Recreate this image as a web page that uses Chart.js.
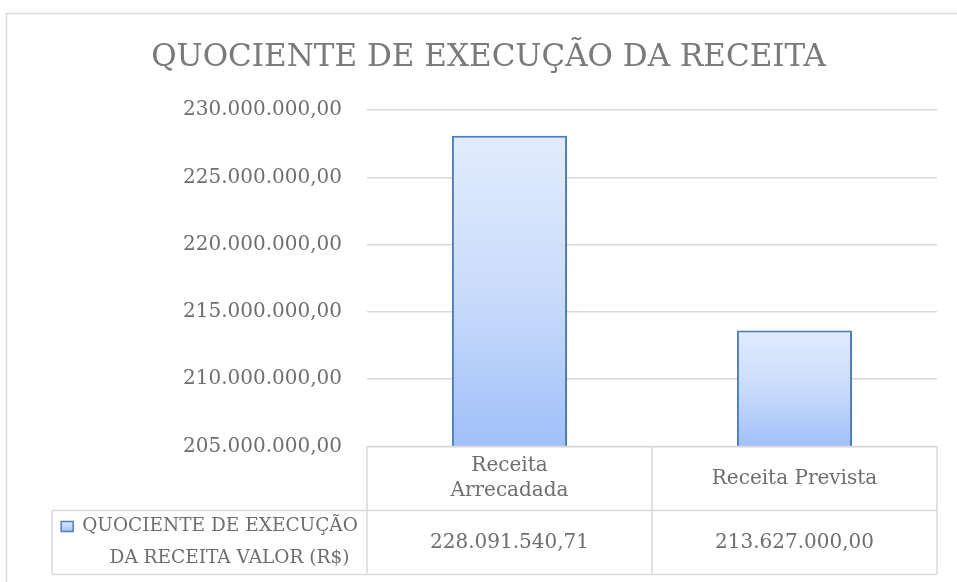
<!DOCTYPE html>
<html>
<head>
<meta charset="utf-8">
<script src="https://cdn.jsdelivr.net/npm/chart.js@4"></script>
<style>
  html, body { margin: 0; padding: 0; background: #ffffff; }
  #wrap { width: 957px; height: 582px; position: relative; }
</style>
</head>
<body>
<div id="wrap"><canvas id="c" width="957" height="582"></canvas></div>
<script>
// ---- data ----
const chartTitle = 'QUOCIENTE DE EXECUÇÃO DA RECEITA';
const categories = ['Receita Arrecadada', 'Receita Prevista'];
const categoryLines = [['Receita', 'Arrecadada'], ['Receita Prevista']];
const seriesName = 'QUOCIENTE DE EXECUÇÃO DA RECEITA VALOR (R$)';
const seriesNameLines = ['QUOCIENTE DE EXECUÇÃO', 'DA RECEITA VALOR (R$)'];
const values = [228091540.71, 213627000.00];
const yMin = 205000000;
const yMax = 230000000;
const yStep = 5000000;

// ---- helpers ----
function fmtBR(v) {
  const neg = v < 0;
  const fixed = Math.abs(v).toFixed(2);
  const [ip, dp] = fixed.split('.');
  const withDots = ip.replace(/\B(?=(\d{3})+(?!\d))/g, '.');
  return (neg ? '-' : '') + withDots + ',' + dp;
}

const FONT = "'DejaVu Serif', 'Liberation Serif', serif";
const TEXT = '#6e6e6e';
const LINE = '#d9d9d9';

function barGradient(ctx) {
  const chart = ctx.chart;
  const area = chart.chartArea;
  if (!area || ctx.type !== 'data') return '#c5d9fb';
  const y = chart.scales.y;
  const top = y.getPixelForValue(ctx.raw);
  const g = chart.ctx.createLinearGradient(0, top, 0, area.bottom);
  g.addColorStop(0, '#e1ebfd');
  g.addColorStop(0.5, '#cadcfb');
  g.addColorStop(1, '#a0c0f9');
  return g;
}

const frame = {
  id: 'frame',
  beforeDraw(chart) {
    const c = chart.ctx;
    c.save();
    c.fillStyle = '#ffffff';
    c.fillRect(0, 0, chart.width, chart.height);
    c.strokeStyle = LINE;
    c.lineWidth = 1.5;
    c.beginPath();
    c.moveTo(6.5, chart.height + 5);
    c.lineTo(6.5, 13.5);
    c.lineTo(chart.width + 5, 13.5);
    c.stroke();
    c.restore();
  }
};

const shadow = {
  id: 'barShadow',
  beforeDatasetsDraw(chart) {
    const c = chart.ctx;
    c.save();
    c.shadowColor = 'rgba(0,0,0,0.18)';
    c.shadowBlur = 5;
    c.shadowOffsetX = 1;
    c.shadowOffsetY = 1;
  },
  afterDatasetsDraw(chart) {
    chart.ctx.restore();
  }
};

const dataTable = {
  id: 'dataTable',
  afterDraw(chart, args, opts) {
    const c = chart.ctx;
    const area = chart.chartArea;
    const x = chart.scales.x;
    const n = categories.length;
    const colW = (area.right - area.left) / n;
    const top = area.bottom;
    const rowH = opts.rowHeight;
    const mid = top + rowH;
    const bottom = top + 2 * rowH;
    const legLeft = opts.legendLeft;

    c.save();
    c.strokeStyle = LINE;
    c.lineWidth = 1.5;
    c.beginPath();
    c.moveTo(area.left, top);
    c.lineTo(area.right, top);
    c.moveTo(legLeft, mid);
    c.lineTo(area.right, mid);
    c.moveTo(legLeft, bottom);
    c.lineTo(area.right, bottom);
    c.moveTo(legLeft, mid);
    c.lineTo(legLeft, bottom);
    for (let i = 0; i <= n; i++) {
      const xx = area.left + i * colW;
      c.moveTo(xx, top);
      c.lineTo(xx, bottom);
    }
    c.stroke();

    c.fillStyle = TEXT;
    c.font = '20px ' + FONT;
    c.textAlign = 'center';
    c.textBaseline = 'middle';
    const lh = 25;
    for (let i = 0; i < n; i++) {
      const cx = x.getPixelForValue(i);
      const lines = categoryLines[i];
      const y0 = top + rowH / 2 - (lines.length - 1) * lh / 2;
      lines.forEach((t, k) => c.fillText(t, cx, y0 + k * lh));
      c.fillText(fmtBR(values[i]), cx, mid + rowH / 2);
    }

    // legend key + series name
    c.font = '18.5px ' + FONT;
    const lh2 = 32;
    const ly0 = mid + rowH / 2 - lh2 / 2;
    c.textAlign = 'left';
    const t1 = seriesNameLines[0];
    const w1 = c.measureText(t1).width;
    const boxW = 12, gap = 9;
    const cellL = legLeft, cellR = area.left;
    const startX = (cellL + cellR) / 2 - (boxW + gap + w1) / 2;
    const g = c.createLinearGradient(0, ly0 - 5, 0, ly0 + 5);
    g.addColorStop(0, '#e1ebfd');
    g.addColorStop(1, '#a0c0f9');
    c.fillStyle = g;
    c.fillRect(startX, ly0 - 5, boxW, 10);
    c.strokeStyle = '#4f81bd';
    c.lineWidth = 1.5;
    c.strokeRect(startX, ly0 - 5, boxW, 10);
    c.fillStyle = TEXT;
    c.fillText(t1, startX + boxW + gap, ly0);
    c.textAlign = 'center';
    c.fillText(seriesNameLines[1], (cellL + cellR) / 2 + 20, ly0 + lh2);
    c.restore();
  }
};

new Chart(document.getElementById('c'), {
  type: 'bar',
  data: {
    labels: categories,
    datasets: [{
      label: seriesName,
      data: values,
      backgroundColor: barGradient,
      borderColor: '#4f81bd',
      borderWidth: 2,
      borderSkipped: false,
      barPercentage: 0.404,
      categoryPercentage: 1.0
    }]
  },
  options: {
    responsive: false,
    animation: false,
    devicePixelRatio: 1,
    layout: { padding: { left: 40, right: 20, top: 0, bottom: 135.5 } },
    plugins: {
      legend: { display: false },
      tooltip: { enabled: false },
      title: {
        display: true,
        text: chartTitle,
        color: '#7a7a7a',
        font: { family: FONT, size: 31, weight: 'normal' },
        padding: { top: 39, bottom: 34 },
        lineHeight: 1.2
      },
      dataTable: { rowHeight: 64, legendLeft: 52 }
    },
    scales: {
      x: {
        display: false,
        grid: { display: false }
      },
      y: {
        min: yMin,
        max: yMax,
        afterFit(scale) { scale.width = 327; },
        border: { display: false },
        grid: { color: LINE, lineWidth: 1.5, drawTicks: false },
        ticks: {
          stepSize: yStep,
          padding: 25,
          color: TEXT,
          font: { family: FONT, size: 20 },
          callback: (v) => fmtBR(v)
        }
      }
    }
  },
  plugins: [frame, shadow, dataTable]
});
</script>
</body>
</html>
